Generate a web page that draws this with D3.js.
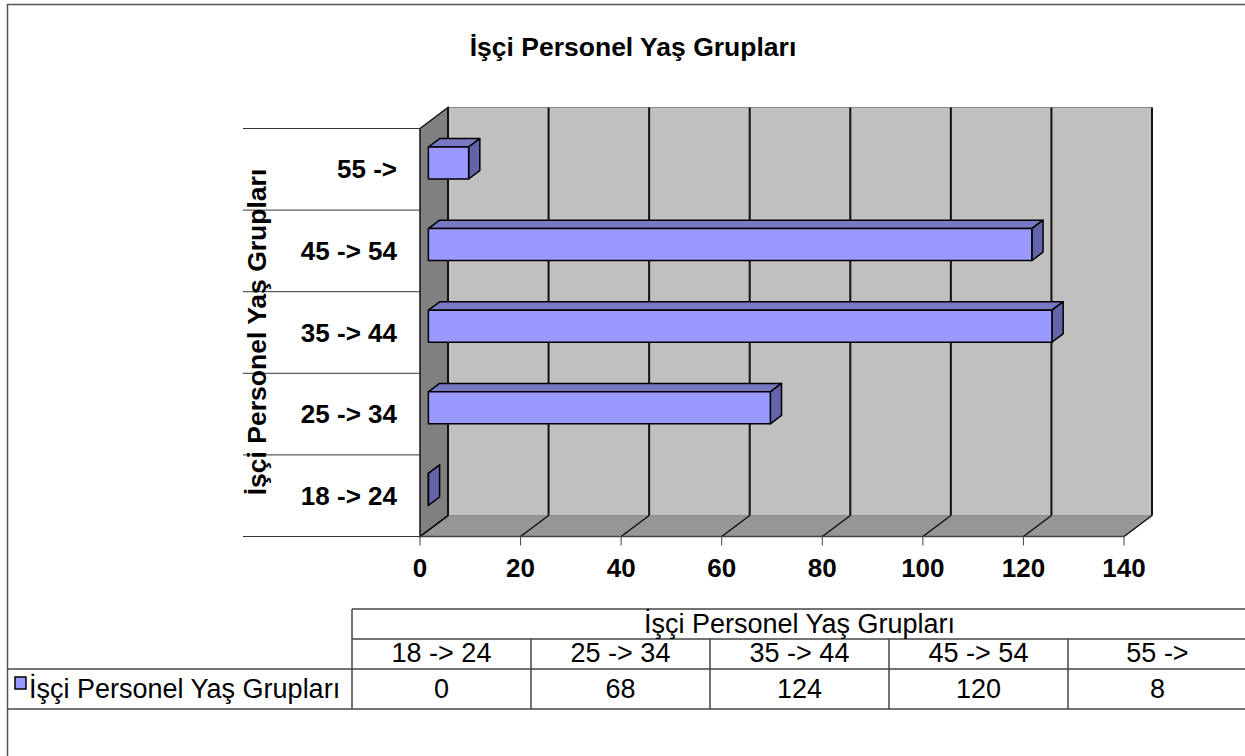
<!DOCTYPE html>
<html>
<head>
<meta charset="utf-8">
<script src="https://cdn.jsdelivr.net/npm/d3@7/dist/d3.min.js"></script>
<style>
  body { margin: 0; background: #fff; }
  text { font-family: "Liberation Sans", Arial, sans-serif; }
</style>
</head>
<body>
<div id="chart"></div>
<script>
// data
const title = 'İşçi Personel Yaş Grupları';
const seriesName = 'İşçi Personel Yaş Grupları';
const categories = ['18 -> 24', '25 -> 34', '35 -> 44', '45 -> 54', '55 ->'];
const values = [0, 68, 124, 120, 8];
const xTicks = [0, 20, 40, 60, 80, 100, 120, 140];

const width = 1245, height = 756;

// 3d depth offset of the back wall
const depthX = 28, depthY = -21;
const barZ0 = 0.3, barZ1 = 0.7, barH = 32;

const svg = d3.select('#chart').append('svg')
  .attr('width', width)
  .attr('height', height);

// outer frame
svg.append('path')
  .attr('d', 'M7.5,760 L7.5,4.5 L1250,4.5')
  .attr('fill', 'none')
  .attr('stroke', '#555')
  .attr('stroke-width', 1.5);

svg.append('text')
  .attr('x', 633).attr('y', 56)
  .attr('text-anchor', 'middle')
  .attr('font-size', 26.5).attr('font-weight', 'bold')
  .text(title);

const x = d3.scaleLinear().domain([0, 140]).range([420, 1124]);
const y = d3.scaleBand().domain(categories.slice().reverse()).range([128.5, 536.5]).paddingInner(0);

// project a point to depth z (0 = front, 1 = back wall)
const P = (px, py, z) => [px + z * depthX, py + z * depthY];
const poly = pts => 'M' + pts.map(p => p.join(',')).join('L') + 'Z';

const yTop = 128.5, yBottom = 536.5;
const g = svg.append('g');

// back wall
g.append('path')
  .attr('d', poly([P(x(0), yTop, 1), P(x(140), yTop, 1), P(x(140), yBottom, 1), P(x(0), yBottom, 1)]))
  .attr('fill', '#c0c0c0').attr('stroke', '#888').attr('stroke-width', 1);

// floor
g.append('path')
  .attr('d', poly([P(x(0), yBottom, 0), P(x(140), yBottom, 0), P(x(140), yBottom, 1), P(x(0), yBottom, 1)]))
  .attr('fill', '#969696').attr('stroke', 'none');

// left wall
g.append('path')
  .attr('d', poly([P(x(0), yTop, 0), P(x(0), yTop, 1), P(x(0), yBottom, 1), P(x(0), yBottom, 0)]))
  .attr('fill', '#808080').attr('stroke', '#111').attr('stroke-width', 1.5);

// grid on back wall and floor
g.selectAll('.vgrid').data(xTicks).enter().append('line')
  .attr('class', 'vgrid')
  .attr('x1', d => P(x(d), yTop, 1)[0]).attr('y1', d => P(x(d), yTop, 1)[1])
  .attr('x2', d => P(x(d), yBottom, 1)[0]).attr('y2', d => P(x(d), yBottom, 1)[1])
  .attr('stroke', '#111').attr('stroke-width', 2);

g.selectAll('.fgrid').data(xTicks).enter().append('line')
  .attr('class', 'fgrid')
  .attr('x1', d => P(x(d), yBottom, 0)[0]).attr('y1', d => P(x(d), yBottom, 0)[1])
  .attr('x2', d => P(x(d), yBottom, 1)[0]).attr('y2', d => P(x(d), yBottom, 1)[1])
  .attr('stroke', '#111').attr('stroke-width', 1.5);

// x axis line + ticks
g.append('line')
  .attr('x1', x(0)).attr('x2', x(140)).attr('y1', yBottom).attr('y2', yBottom)
  .attr('stroke', '#444').attr('stroke-width', 1.5);

g.selectAll('.xtick').data(xTicks).enter().append('line')
  .attr('x1', d => x(d)).attr('x2', d => x(d))
  .attr('y1', yBottom).attr('y2', yBottom + 9)
  .attr('stroke', '#444').attr('stroke-width', 1);

g.selectAll('.xlab').data(xTicks).enter().append('text')
  .attr('x', d => x(d)).attr('y', 577)
  .attr('text-anchor', 'middle')
  .attr('font-size', 26).attr('font-weight', 'bold')
  .text(d => d);

// category separators
const bounds = [yTop].concat(y.domain().map(c => y(c) + y.bandwidth()));
g.selectAll('.ysep').data(bounds).enter().append('line')
  .attr('x1', 243).attr('x2', x(0)).attr('y1', d => d).attr('y2', d => d)
  .attr('stroke', '#333').attr('stroke-width', 1);

g.selectAll('.ylab').data(categories).enter().append('text')
  .attr('x', 397).attr('y', d => y(d) + y.bandwidth() / 2 + 9)
  .attr('text-anchor', 'end')
  .attr('font-size', 26).attr('font-weight', 'bold')
  .text(d => d);

g.append('text')
  .attr('transform', 'translate(266,332) rotate(-90)')
  .attr('text-anchor', 'middle')
  .attr('font-size', 26.5).attr('font-weight', 'bold')
  .text(seriesName);

// bars
const bars = g.selectAll('.bar').data(categories.map((c, i) => ({ c, v: values[i] })))
  .enter().append('g').attr('class', 'bar');

const yt = d => y(d.c) + y.bandwidth() / 2 - barH / 2;
const yb = d => y(d.c) + y.bandwidth() / 2 + barH / 2;

bars.append('path')
  .attr('d', d => poly([P(x(0), yt(d), barZ0), P(x(d.v), yt(d), barZ0), P(x(d.v), yt(d), barZ1), P(x(0), yt(d), barZ1)]))
  .attr('fill', '#7878c4').attr('stroke', '#000').attr('stroke-width', 1.5).attr('stroke-linejoin', 'round');

bars.append('path')
  .attr('d', d => poly([P(x(d.v), yt(d), barZ0), P(x(d.v), yt(d), barZ1), P(x(d.v), yb(d), barZ1), P(x(d.v), yb(d), barZ0)]))
  .attr('fill', '#6464aa').attr('stroke', '#000').attr('stroke-width', 1.5).attr('stroke-linejoin', 'round');

bars.append('path')
  .attr('d', d => poly([P(x(0), yt(d), barZ0), P(x(d.v), yt(d), barZ0), P(x(d.v), yb(d), barZ0), P(x(0), yb(d), barZ0)]))
  .attr('fill', '#9999ff').attr('stroke', '#000').attr('stroke-width', 1.5).attr('stroke-linejoin', 'round');

// data table
const cols = d3.scaleBand().domain(categories).range([352, 1247]);
const tb = svg.append('g');
const tl = (x1, y1, x2, y2) => tb.append('line')
  .attr('x1', x1).attr('y1', y1).attr('x2', x2).attr('y2', y2)
  .attr('stroke', '#444').attr('stroke-width', 1.5);

tl(352, 609, 1250, 609);
tl(352, 639, 1250, 639);
tl(7, 669, 1250, 669);
tl(7, 709, 1250, 709);
tl(352, 609, 352, 709);
categories.slice(1).forEach(c => tl(cols(c), 639, cols(c), 709));

tb.append('text')
  .attr('x', (352 + 1247) / 2).attr('y', 633)
  .attr('text-anchor', 'middle').attr('font-size', 27)
  .text(seriesName);

tb.selectAll('.hcat').data(categories).enter().append('text')
  .attr('x', d => cols(d) + cols.bandwidth() / 2).attr('y', 662)
  .attr('text-anchor', 'middle').attr('font-size', 27)
  .text(d => d);

tb.selectAll('.hval').data(values).enter().append('text')
  .attr('x', (d, i) => cols(categories[i]) + cols.bandwidth() / 2).attr('y', 698)
  .attr('text-anchor', 'middle').attr('font-size', 27)
  .text(d => d);

tb.append('rect')
  .attr('x', 15).attr('y', 677).attr('width', 11).attr('height', 12)
  .attr('fill', '#9999ff').attr('stroke', '#000').attr('stroke-width', 1.5);

tb.append('text')
  .attr('x', 29).attr('y', 698).attr('font-size', 27)
  .text(seriesName);
</script>
</body>
</html>
